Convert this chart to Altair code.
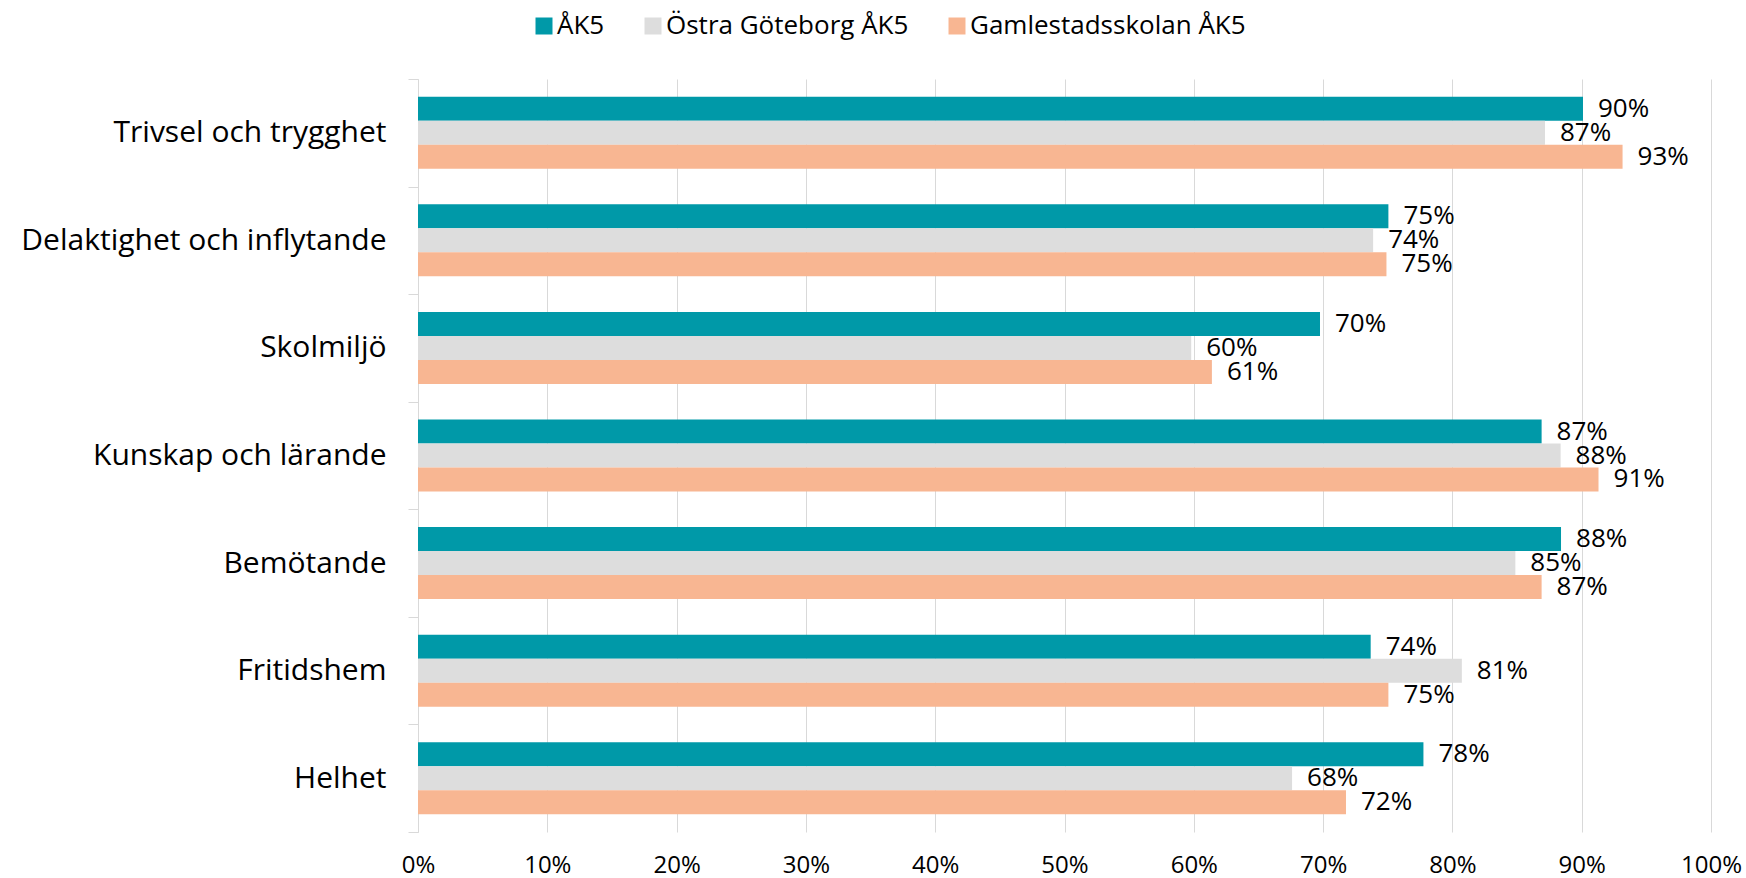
import altair as alt
import pandas as pd

categories = ["Trivsel och trygghet", "Delaktighet och inflytande", "Skolmiljö",
              "Kunskap och lärande", "Bemötande", "Fritidshem", "Helhet"]
series = ["ÅK5", "Östra Göteborg ÅK5", "Gamlestadsskolan ÅK5"]
ak5 = [0.901, 0.7505, 0.6976, 0.869, 0.884, 0.7368, 0.7776]
ostra = [0.8716, 0.7387, 0.598, 0.8837, 0.8487, 0.8073, 0.676]
gamla = [0.9316, 0.749, 0.614, 0.913, 0.869, 0.7505, 0.7177]
colors = ["#0099A8", "#DDDDDD", "#F8B692"]
x_ticks = [0, 0.1, 0.2, 0.3, 0.4, 0.5, 0.6, 0.7, 0.8, 0.9, 1.0]

rows = []
for s, vals in zip(series, [ak5, ostra, gamla]):
    for c, v in zip(categories, vals):
        rows.append({"category": c, "series": s, "value": v})
df = pd.DataFrame(rows)

FONT = "Open Sans"

base = alt.Chart(df).encode(
    y=alt.Y("category:N", sort=categories,
            scale=alt.Scale(paddingInner=0, paddingOuter=0),
            axis=alt.Axis(title=None, labelFont=FONT, labelFontSize=30, labelColor="#000000",
                          labelLimit=0, tickBand="extent", tickSize=10, tickColor="#D9D9D9",
                          domainColor="#D9D9D9", labelPadding=22, grid=False)),
    yOffset=alt.YOffset("series:N", sort=series,
                        scale=alt.Scale(paddingInner=0, paddingOuter=0.742)),
)

bars = base.mark_bar().encode(
    x=alt.X("value:Q", scale=alt.Scale(domain=[0, 1], nice=False),
            axis=alt.Axis(values=x_ticks, format=".0%", grid=True, gridColor="#D9D9D9",
                          domain=False, ticks=False, labelFont=FONT, labelFontSize=24,
                          labelFlush=False, labelColor="#000000", labelPadding=21,
                          title=None)),
    color=alt.Color("series:N", sort=series,
                    scale=alt.Scale(domain=series, range=colors),
                    legend=alt.Legend(orient="none", direction="horizontal", columns=3,
                                      legendX=113, legendY=-66, title=None,
                                      symbolType="square", symbolSize=289,
                                      symbolStrokeWidth=0, labelFont=FONT,
                                      labelFontSize=26, labelColor="#000000",
                                      labelLimit=0, labelOffset=0, columnPadding=35)),
)

labels = base.mark_text(align="left", baseline="middle", dx=15, fontSize=26,
                        font=FONT, color="#000000").encode(
    x="value:Q",
    text=alt.Text("value:Q", format=".0%"),
)

chart = alt.layer(bars, labels).properties(
    width=1293, height=753,
    autosize=alt.AutoSizeParams(type="none"),
    padding={"left": 418, "top": 79, "right": 35, "bottom": 46},
).configure_view(stroke=None)

chart.save("out.html", embed_options={"renderer": "svg", "actions": False})
